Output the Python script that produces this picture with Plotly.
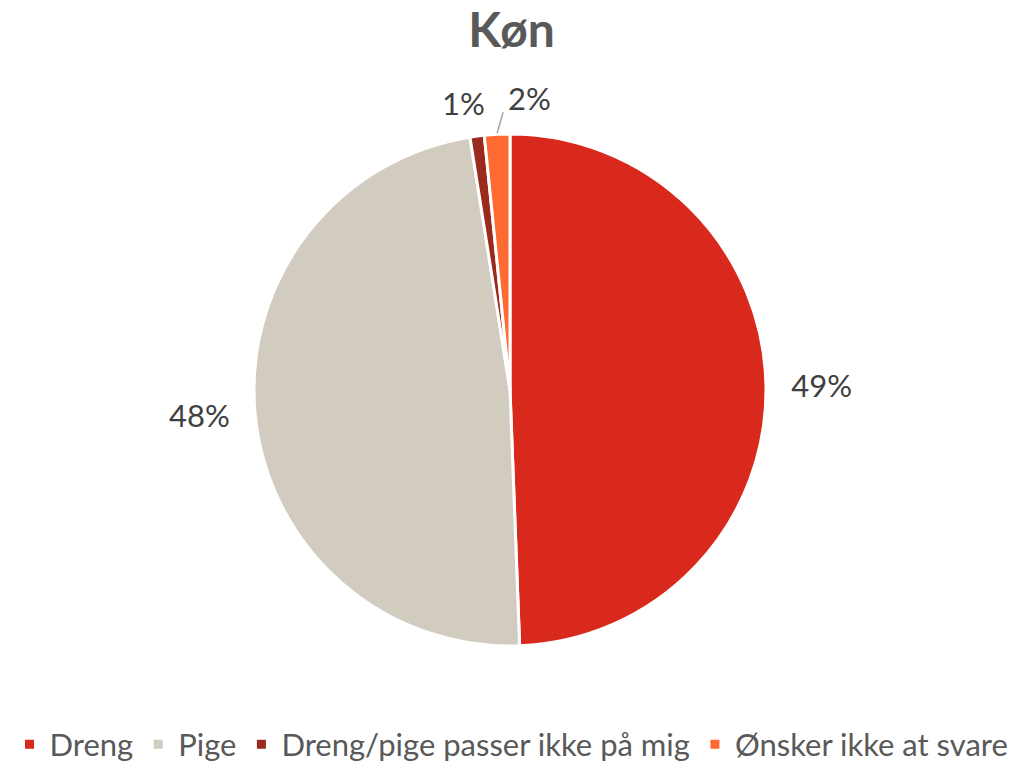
import math
import plotly.graph_objects as go

categories = ["Dreng", "Pige", "Dreng/pige passer ikke på mig", "Ønsker ikke at svare"]
values = [49.4, 48.1, 0.9, 1.6]
colors = ["#D9291C", "#D1CCBF", "#9B2A1E", "#FF6A33"]

W, H = 1023, 763
cx, cy, r = 510, 390, 256  # pixel coords of pie centre / radius

LBL = "#404040"
NB = "\u00a0\u00a0"

fig = go.Figure(go.Pie(
    labels=categories,
    values=values,
    sort=False,
    direction="clockwise",
    rotation=0,
    marker=dict(colors=colors, line=dict(color="white", width=3)),
    texttemplate=[NB + "%{percent:.0%}", "%{percent:.0%}" + NB, "", ""],
    textposition=["outside", "outside", "none", "none"],
    textfont=dict(family="Lato", size=31, color=LBL),
    outsidetextfont=dict(family="Lato", size=31, color=LBL),
    hoverinfo="label+percent",
    domain=dict(x=[(cx - r) / W, (cx + r) / W], y=[(H - cy - r) / H, (H - cy + r) / H]),
    automargin=False,
))

# labels for the two small slices, positioned from their mid-angles
total = sum(values)
cum = 0
mids = []
for v in values:
    mids.append((cum + v / 2) / total * 2 * math.pi)
    cum += v

def edge(angle, rad):
    return cx + rad * math.sin(angle), cy - rad * math.cos(angle)

annotations = []
shapes = []
# 1%
ex, ey = edge(mids[2], r)
pct1 = round(values[2] / total * 100)
annotations.append(dict(x=(ex - 14) / W, y=1 - (ey - 33) / H, xref="paper", yref="paper",
                        text=f"{pct1}%", showarrow=False, xanchor="center", yanchor="middle",
                        font=dict(family="Lato", size=31, color=LBL)))
# 2% with leader line
ex, ey = edge(mids[3], r + 1)
pct2 = round(values[3] / total * 100)
annotations.append(dict(x=(ex + 32) / W, y=1 - (ey - 35) / H, xref="paper", yref="paper",
                        text=f"{pct2}%", showarrow=False, xanchor="center", yanchor="middle",
                        font=dict(family="Lato", size=31, color=LBL)))
shapes.append(dict(type="line", xref="paper", yref="paper",
                   x0=ex / W, y0=1 - ey / H, x1=(ex + 6) / W, y1=1 - (ey - 21) / H,
                   line=dict(color="#A6A6A6", width=1.5)))

fig.update_layout(
    width=W, height=H,
    margin=dict(l=0, r=0, t=0, b=0, autoexpand=False),
    paper_bgcolor="white",
    plot_bgcolor="white",
    title=dict(text="<b>Køn</b>", x=0.5, xanchor="center", y=0.96, yanchor="middle",
               font=dict(family="Lato", size=48, color="#595959")),
    legend=dict(orientation="h", x=0.5, xanchor="center", y=0.024, yanchor="middle",
                font=dict(family="Lato", size=31, color="#595959"),
                itemwidth=30, tracegroupgap=0),
    showlegend=True,
    annotations=annotations,
    shapes=shapes,
)

fig.write_html("out.html", config={"displayModeBar": False},
               post_script="document.body.style.margin='0px';")
